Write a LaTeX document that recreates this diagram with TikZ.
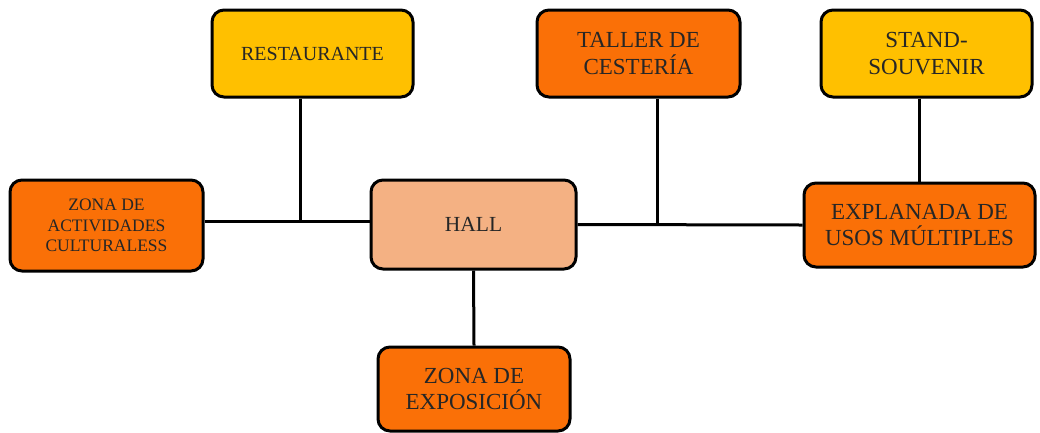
\documentclass[tikz,border=0pt]{standalone}
\usepackage{fontspec}
\setmainfont{Liberation Serif}
\usepackage{xcolor}

\definecolor{naranja}{RGB}{250,112,7}
\definecolor{amarillo}{RGB}{255,192,0}
\definecolor{salmon}{RGB}{244,177,131}

\begin{document}
\begin{tikzpicture}[
        x=1pt, y=-1pt,
        area/.style={draw, line width=3pt, rounded corners=12pt, align=center,
            inner sep=0pt, text=black!85},
        big text/.style={font=\fontsize{23}{26.5}\selectfont},
        conn/.style={line width=3pt}
    ]
        \useasboundingbox (0,0) rectangle (1040,432);
        % Areas
        \node[area, fill=amarillo, minimum width=201pt, minimum height=87pt,
            font=\fontsize{20}{23}\selectfont] (rest) at (312.5,53.5) {RESTAURANTE};
        \node[area, fill=naranja, minimum width=203pt, minimum height=87pt, big text]
            (taller) at (638.5,53.5) {TALLER DE\\CESTERÍA};
        \node[area, fill=amarillo, minimum width=211pt, minimum height=87pt, big text]
            (stand) at (926.5,53.5) {STAND-\\SOUVENIR};
        \node[area, fill=naranja, minimum width=193pt, minimum height=91pt,
            font=\fontsize{17.5}{20.5}\selectfont] (zac) at (106.5,225.5)
            {ZONA DE\\ACTIVIDADES\\CULTURALESS};
        \node[area, fill=salmon, minimum width=205pt, minimum height=89pt,
            font=\fontsize{21.5}{25}\selectfont] (hall) at (473.5,224.5) {HALL};
        \node[area, fill=naranja, minimum width=231pt, minimum height=84pt, big text]
            (expl) at (919.5,225) {EXPLANADA DE\\USOS MÚLTIPLES};
        \node[area, fill=naranja, minimum width=192pt, minimum height=84pt, big text]
            (expo) at (474,389) {ZONA DE\\EXPOSICIÓN};

        % Junctions
        \coordinate (jl) at (300,221);
        \coordinate (jt) at (657,223);

        % Connectors
        \draw[conn] (zac.east |- jl) -- (hall.west |- jl);
        \draw[conn] (rest.south -| jl) -- (jl);
        \draw[conn] (hall.east) -- (expl.west);
        \draw[conn] (taller.south -| jt) -- (jt);
        \draw[conn] (stand.south -| expl.north) -- (expl.north);
        \draw[conn] (hall.south) -- (expo.north);
    \end{tikzpicture}
\end{document}
